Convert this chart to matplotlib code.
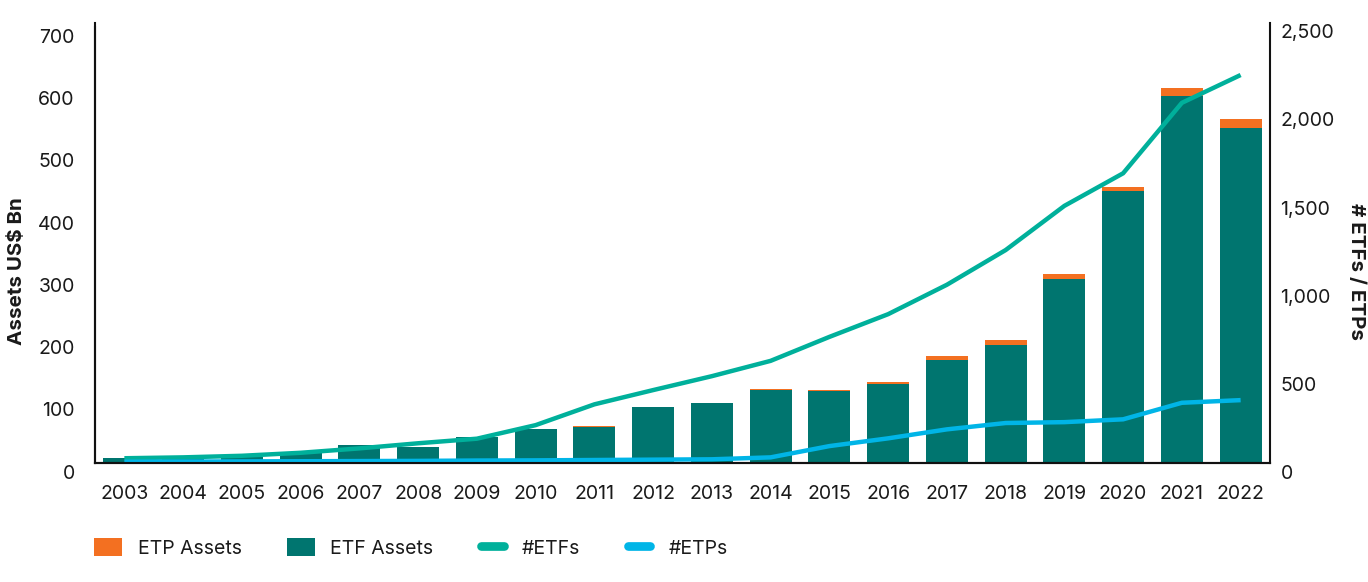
import matplotlib
matplotlib.use("Agg")
import matplotlib.pyplot as plt
import matplotlib.transforms as mtransforms
from matplotlib.lines import Line2D
from matplotlib.patches import Patch
from matplotlib.legend_handler import HandlerLine2D
import numpy as np

years = [str(y) for y in range(2003, 2023)]
etf_assets = [7.5, 8, 10, 18, 28.9, 26.2, 41.7, 55, 58.6, 90.2, 95.6, 118, 115, 126.8, 165.9, 189.4, 296, 437, 590, 539]
etp_assets = [0, 0, 0, 0, 0, 0, 0.2, 0.2, 0.3, 0.3, 0.3, 0.4, 2.0, 3.7, 5.4, 7.6, 7.4, 7.0, 12, 14]
n_etfs = [27, 32, 41, 58, 83, 112, 138, 215, 333, 414, 493, 580, 716, 845, 1012, 1209, 1460, 1645, 2045, 2203]
n_etps = [7, 8, 9, 10, 11, 12, 14, 15, 17, 19, 21, 32, 96, 140, 191, 227, 232, 248, 342, 357]

C_ETF = "#00756F"
C_ETP = "#F37021"
C_LETF = "#00B09B"
C_LETP = "#00B5E7"
TXT = "#1a1a1a"

plt.rcParams['font.family'] = ['Inter', 'DejaVu Sans']

W, H = 1368, 582
fig = plt.figure(figsize=(W / 100, H / 100), dpi=100)
left, right, bottom, top = 95, 1270, 463, 22.7
ax = fig.add_axes([left / W, 1 - bottom / H, (right - left) / W, (bottom - top) / H])
ax2 = ax.twinx()

x = np.arange(len(years))
ax.bar(x, etf_assets, width=0.715, color=C_ETF, zorder=2)
ax.bar(x, etp_assets, width=0.715, bottom=etf_assets, color=C_ETP, zorder=2)

ax2.plot(x, n_etfs, color=C_LETF, lw=3.2, solid_capstyle='butt', solid_joinstyle='round')
ax2.plot(x, n_etps, color=C_LETP, lw=3.2, solid_capstyle='butt', solid_joinstyle='round')

left_top = 700 * (bottom - top) / (bottom - 27.3)
ax.set_ylim(0, left_top)
ax2.set_ylim(0, 2500)
ax.set_xlim(-0.5, 19.5)
ax.set_yticks(range(0, 701, 100))
ax2.set_yticks(range(0, 2501, 500))
ax2.set_yticklabels([f"{v:,}" for v in range(0, 2501, 500)])
ax.set_xticks(x)
ax.set_xticklabels(years)

for a in (ax, ax2):
    for s in a.spines.values():
        s.set_linewidth(1.5)
        s.set_color("#111111")
    a.spines['top'].set_visible(False)
ax.spines['left'].set_bounds(0, 700)
ax.spines['right'].set_visible(False)

FS = 14
ax.tick_params(axis='y', length=0, pad=14.5, labelsize=FS, colors=TXT)
ax.tick_params(axis='x', length=0, pad=15.5, labelsize=FS, colors=TXT)
ax2.tick_params(axis='y', length=0, pad=7.5, labelsize=FS, colors=TXT)

off = mtransforms.ScaledTranslation(0, -8.7 / 100, fig.dpi_scale_trans)
for lab in ax.get_yticklabels() + ax2.get_yticklabels():
    lab.set_transform(lab.get_transform() + off)

ax.set_ylabel("Assets US$ Bn", fontsize=14.8, fontweight='bold', color=TXT)
ax2.set_ylabel("# ETFs / ETPs", fontsize=14.8, fontweight='bold', rotation=270, color=TXT)
ax.yaxis.label.set_va('center')
ax.yaxis.label.set_ha('center')
ax2.yaxis.label.set_va('center')
ax2.yaxis.label.set_ha('center')
ax.yaxis.set_label_coords((17.5 - left) / (right - left), (bottom - 271) / (bottom - top))
ax2.yaxis.set_label_coords((1356 - left) / (right - left), (bottom - 271.5) / (bottom - top))

fs_px = FS * 100 / 72
handles = [
    Patch(facecolor=C_ETP, edgecolor='none'),
    Patch(facecolor=C_ETF, edgecolor='none'),
    Line2D([], [], color=C_LETF, lw=8.7 * 72 / 100, solid_capstyle='round'),
    Line2D([], [], color=C_LETP, lw=8.7 * 72 / 100, solid_capstyle='round'),
]
labels = ["ETP Assets", "ETF Assets", "#ETFs", "#ETPs"]
leg = fig.legend(handles, labels, loc='center left', bbox_to_anchor=(94.3 / W, 1 - 548 / H),
                 ncol=4, frameon=False, fontsize=FS,
                 handlelength=28 / fs_px, handleheight=20 / fs_px, handletextpad=15.5 / fs_px,
                 columnspacing=45 / fs_px, borderaxespad=0, borderpad=0,
                 handler_map={Line2D: HandlerLine2D(marker_pad=2.85 / fs_px, numpoints=2)})
for t in leg.get_texts():
    t.set_color(TXT)

fig.savefig("out.png", dpi=100)
